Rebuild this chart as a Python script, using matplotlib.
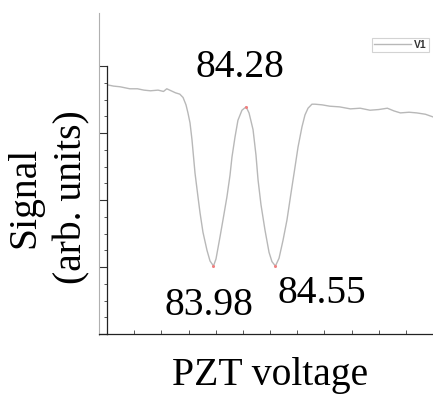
import matplotlib
matplotlib.use("Agg")
import matplotlib.pyplot as plt
from matplotlib.lines import Line2D
from matplotlib.ticker import MultipleLocator, NullFormatter

# ---- data ----
pzt_voltage = [83.00, 83.06, 83.12, 83.21, 83.28, 83.34, 83.40, 83.47, 83.52, 83.55,
               83.59, 83.63, 83.67, 83.70, 83.727, 83.745, 83.764, 83.782, 83.810, 83.837,
               83.856, 83.883, 83.920, 83.948, 83.98, 84.003, 84.040, 84.067, 84.104, 84.132,
               84.150, 84.178, 84.205, 84.242, 84.28, 84.307, 84.344, 84.371, 84.390, 84.417,
               84.454, 84.491, 84.518, 84.55, 84.583, 84.620, 84.656, 84.693, 84.730, 84.758,
               84.794, 84.822, 84.850, 84.886, 84.914, 84.98, 85.05, 85.14, 85.24, 85.33,
               85.42, 85.50, 85.58, 85.64, 85.70, 85.78, 85.85, 85.93, 86.00]
signal = [3.72, 3.70, 3.69, 3.66, 3.66, 3.64, 3.63, 3.64, 3.62, 3.66,
          3.63, 3.60, 3.58, 3.53, 3.42, 3.30, 3.15, 2.90, 2.40, 2.05,
          1.81, 1.52, 1.25, 1.09, 1.015, 1.12, 1.45, 1.70, 2.05, 2.37,
          2.64, 2.94, 3.19, 3.34, 3.39, 3.30, 3.05, 2.67, 2.30, 1.93,
          1.55, 1.22, 1.08, 1.015, 1.13, 1.40, 1.70, 2.10, 2.49, 2.79,
          3.09, 3.27, 3.37, 3.43, 3.43, 3.42, 3.40, 3.39, 3.36, 3.37,
          3.34, 3.35, 3.37, 3.33, 3.30, 3.31, 3.30, 3.28, 3.24]

peak_voltage = [83.98, 84.28, 84.55]
peak_signal = [1.015, 3.39, 1.015]
peak_labels = ["83.98", "84.28", "84.55"]

series_name = "V1"
x_label = "PZT voltage"
y_label = "Signal\n(arb. units)"

# ---- figure ----
W, H = 433, 397
fig = plt.figure(figsize=(W / 100, H / 100), dpi=100)

def fx(px):
    return px / W

def fy(py):
    return 1 - py / H

ax_left, ax_right, ax_top, ax_bot = 107, 433, 13, 334
ax = fig.add_axes([fx(ax_left), fy(ax_bot), fx(ax_right - ax_left), (ax_bot - ax_top) / H])
ax.set_xlim(83.0, 86.0)
ax.set_ylim(0, (ax_bot - ax_top) / 67.0)

ax.plot(pzt_voltage, signal, color="#b8b8b8", lw=1.0, label=series_name)
ax.plot(peak_voltage, peak_signal, ls="none", marker="o", ms=2.2,
        color="#f08080", mec="none")

for s in ["top", "right"]:
    ax.spines[s].set_visible(False)
ax.spines["left"].set_bounds(0, 4)
ax.spines["left"].set_color("#222222")
ax.spines["bottom"].set_color("#222222")
ax.spines["left"].set_linewidth(0.9)
ax.spines["bottom"].set_linewidth(0.9)

ax.xaxis.set_major_locator(MultipleLocator(0.25))
ax.xaxis.set_major_formatter(NullFormatter())
ax.set_yticks([0, 1, 2, 3, 4])
ax.set_yticks([i * 0.25 for i in range(0, 17)], minor=True)
ax.yaxis.set_major_formatter(NullFormatter())
ax.tick_params(axis="y", which="major", direction="out", length=6, width=0.8, color="#333333")
ax.tick_params(axis="y", which="minor", direction="out", length=2.5, width=0.7, color="#555555")
ax.tick_params(axis="x", which="major", direction="in", length=3, width=0.7, color="#555555")

# outer frame lines
fig.add_artist(Line2D([fx(99), fx(99)], [fy(13), fy(334.5)], color="#b0b0b0", lw=0.8))
fig.add_artist(Line2D([fx(99), fx(107)], [fy(334), fy(334)], color="#222222", lw=0.9))

# legend
leg = ax.legend(loc="upper right", bbox_to_anchor=(fx(429), fy(38)),
                bbox_transform=fig.transFigure, frameon=True, fancybox=False,
                prop={"family": "Liberation Sans", "weight": "bold", "size": 7.5},
                handlelength=3.6, handletextpad=0.3, borderpad=0.2,
                borderaxespad=0)
leg.get_frame().set_edgecolor("#c8c8c8")
leg.get_frame().set_linewidth(0.8)
for t in leg.get_texts():
    t.set_color("#333333")

font = "Liberation Serif"
fs = 28.5
label_pos = [(209, 315), (240, 77), (322, 303)]
for lab, (px, py) in zip(peak_labels, label_pos):
    fig.text(fx(px), fy(py), lab, ha="center", va="baseline", family=font, fontsize=fs)

fig.text(fx(270), fy(385), x_label, ha="center", va="baseline", family=font, fontsize=fs)
fig.text(fx(48), fy(197), y_label, ha="center", va="center", rotation=90,
         family=font, fontsize=fs, linespacing=1.35, multialignment="center")

fig.savefig("out.png", dpi=100)
